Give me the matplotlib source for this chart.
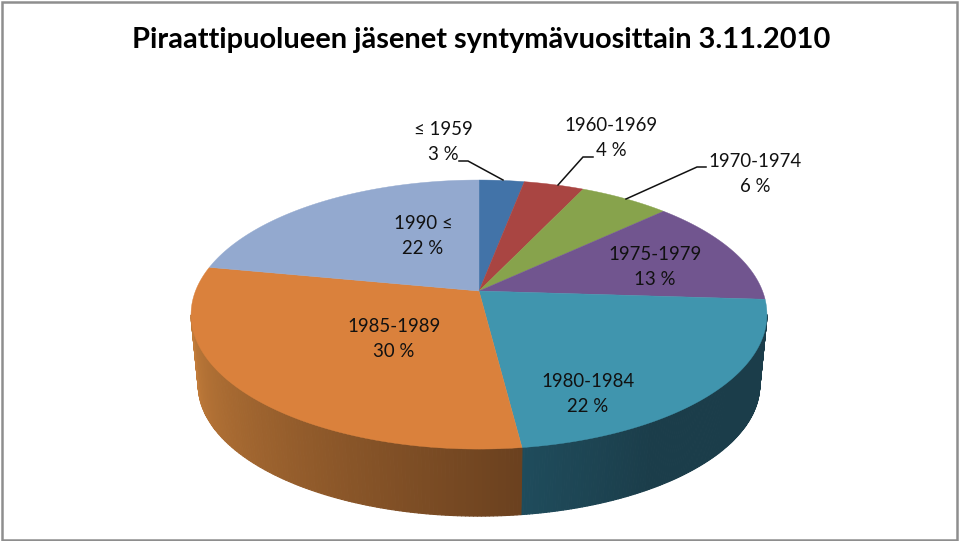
import numpy as np
import matplotlib
matplotlib.use("Agg")
import matplotlib.pyplot as plt
from matplotlib.collections import PolyCollection
from matplotlib.patches import Polygon, Rectangle

plt.rcParams['font.family'] = ['Lato', 'DejaVu Sans']

title = "Piraattipuolueen jäsenet syntymävuosittain 3.11.2010"
labels = ["≤ 1959", "1960-1969", "1970-1974", "1975-1979", "1980-1984", "1985-1989", "1990 ≤"]
shares = [3, 4, 6, 13, 22, 30, 22]
colors = ["#4273a8", "#a94542", "#87a34c", "#71558f", "#4095ae", "#da813c", "#93a9cf"]

# side gradient: colour at start and end of the visible part of the slice
side_colors = {4: ["#1f4c5c", "#1b3d4a"], 5: ["#6b411f", "#c27c3a"]}

# where the labels go, in pixels
label_pos = [(443, 142), (611, 138), (755, 174), (655, 267), (588, 394), (394, 339), (423, 236)]
leaders = [[(459, 161), (468, 161), (503, 180)],
           [(593, 157), (583, 157), (558, 185)],
           [(706, 167), (697, 167), (626, 199)]]

cx, cy = 479, 291
rx, ry = 283.5, 130.4
persp = 0.175
depth = 71
bottom_scale = 0.975


# project an angle on the pie (0 = up, clockwise) to picture pixels
def project(t, scale=1.0, dy=0.0):
    u, v = np.sin(t), np.cos(t)
    w = 1 + persp * v
    return cx + scale * rx * u / w, cy + dy - scale * ry * v / w


fig = plt.figure(figsize=(9.6, 5.41), dpi=100)
ax = fig.add_axes([0, 0, 1, 1])
ax.set_xlim(0, 960)
ax.set_ylim(541, 0)
ax.axis('off')

ax.add_patch(Rectangle((2, 1.5), 955, 538, fill=False, ec="#8e8e8e", lw=1.8))

edges = np.cumsum([0] + shares) / sum(shares) * 2 * np.pi

# side wall, only the slices that face the viewer
for i in side_colors:
    t = np.linspace(edges[i], edges[i + 1], 160)
    t = t[np.cos(t) < -0.17]
    xt, yt = project(t)
    xb, yb = project(t, bottom_scale, depth)
    quads = [[(xt[j], yt[j]), (xt[j + 1], yt[j + 1]), (xb[j + 1], yb[j + 1]), (xb[j], yb[j])]
             for j in range(len(t) - 1)]
    c0 = np.array(matplotlib.colors.to_rgb(side_colors[i][0]))
    c1 = np.array(matplotlib.colors.to_rgb(side_colors[i][1]))
    if i == 4:
        # blue side goes dark quickly, then stays flat
        f = 1 - np.clip((t[-1] - t[:-1]) / (t[-1] - t[0]) * 3.0, 0, 1)
        cols = c1 + (c0 - c1) * f[:, None]
    else:
        f = np.linspace(0, 1, len(t) - 1)
        cols = c0 + (c1 - c0) * f[:, None]
    ax.add_collection(PolyCollection(quads, facecolors=cols, edgecolors=cols, linewidths=0.8, zorder=2))

# top face
for i in range(len(shares)):
    t = np.linspace(edges[i], edges[i + 1], 120)
    x, y = project(t)
    pts = [(cx, cy)] + list(zip(x, y))
    ax.add_patch(Polygon(pts, closed=True, fc=colors[i], ec=colors[i], lw=0.3, zorder=3))

for line in leaders:
    ax.plot([p[0] for p in line], [p[1] for p in line], color="#111111", lw=1.1, zorder=4,
            solid_joinstyle='miter')

for i in range(len(labels)):
    ax.text(label_pos[i][0], label_pos[i][1], "%s\n%d %%" % (labels[i], shares[i]),
            ha='center', va='center', multialignment='center', fontsize=13.4,
            linespacing=1.6, color="#111111", zorder=5)

ax.text(481, 40, title, ha='center', va='center', fontsize=20.9, fontweight='bold', color="black")

fig.savefig("out.png", dpi=100)
